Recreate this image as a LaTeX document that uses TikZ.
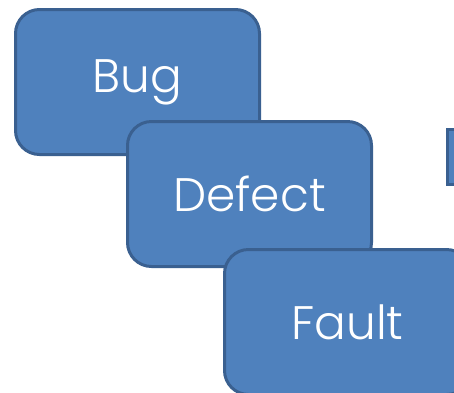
\documentclass[tikz,border=0pt]{standalone}
\usepackage{fontspec}
\setmainfont{Poppins}[UprightFont=* Light]
\definecolor{boxfill}{HTML}{4F81BD}
\definecolor{boxline}{HTML}{3A6090}
\begin{document}
\begin{tikzpicture}[x=1pt,y=-1pt,
  card/.style={draw=boxline, fill=boxfill, line width=3pt, rounded corners=24pt,
    minimum width=244pt, minimum height=145pt, inner sep=0pt, text=white,
    font=\fontsize{47}{50}\selectfont, anchor=north west}]
\useasboundingbox (0,0) rectangle (454,392);
\clip (0,0) rectangle (454,392);
\node[card] (bug) at (14,8) {Bug};
\node[card] (defect) at (126,120) {Defect};
\node[card, minimum width=246pt] (fault) at (223,248) {Fault};
\node[draw=boxline, fill=boxfill, line width=3pt, minimum width=40pt, minimum height=55pt, anchor=north west] (side) at (446,128) {};
\end{tikzpicture}
\end{document}
